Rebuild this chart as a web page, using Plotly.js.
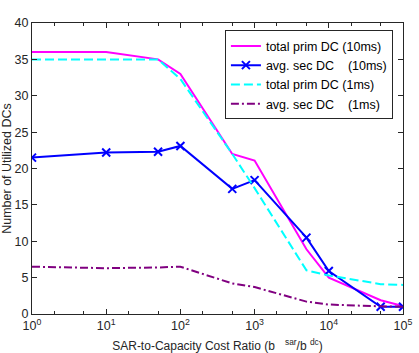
<!DOCTYPE html>
<html>
<head>
<meta charset="utf-8">
<script src="https://cdn.plot.ly/plotly-3.0.1.min.js"></script>
<style>
  html, body { margin: 0; padding: 0; background: #fff; }
  #chart { width: 419px; height: 353px; }
</style>
</head>
<body>
<div id="chart"></div>
<script>
// cost ratio values (x)
const costRatio = [1, 10, 50, 100, 500, 1000, 5000, 10000, 50000, 100000];

const primDC10ms = [36, 36, 35, 33, 22, 21.1, 8.9, 5, 1.9, 1.1];
const secDC10ms = [21.5, 22.2, 22.3, 23.1, 17.2, 18.4, 10.5, 5.9, 1.0, 1.0];
const primDC1ms = [35, 35, 35, 32.3, 22, 17.3, 6.0, 5.3, 4.1, 4.0];
const secDC1ms = [6.5, 6.3, 6.4, 6.5, 4.2, 3.7, 1.7, 1.3, 1.05, 1.0];

const xTickVals = [1, 10, 100, 1000, 10000, 100000];
const xTickText = ["10<sup>0</sup>", "10<sup>1</sup>", "10<sup>2</sup>",
  "10<sup>3</sup>", "10<sup>4</sup>", "10<sup>5</sup>"];

const axisColor = "#262626";
const font = "Liberation Sans, Arial, sans-serif";

const data = [
  {
    x: costRatio,
    y: primDC10ms,
    name: "total prim DC (10ms)",
    mode: "lines",
    line: { color: "#ff00ff", width: 2 },
  },
  {
    x: costRatio,
    y: secDC10ms,
    name: "avg. sec DC\u00a0\u00a0\u00a0\u00a0(10ms)",
    mode: "lines+markers",
    line: { color: "#0000ff", width: 2 },
    marker: { symbol: "x-thin-open", size: 8, line: { color: "#0000ff", width: 2 } },
  },
  {
    x: costRatio,
    y: primDC1ms,
    name: "total prim DC (1ms)",
    mode: "lines",
    line: { color: "#00ffff", width: 2, dash: "9px,4px" },
  },
  {
    x: costRatio,
    y: secDC1ms,
    name: "avg. sec DC\u00a0\u00a0\u00a0\u00a0(1ms)",
    mode: "lines",
    line: { color: "#800080", width: 2, dash: "8px,3px,2px,3px" },
  },
];

const layout = {
  width: 419,
  height: 353,
  margin: { l: 32, r: 16, t: 23, b: 39 },
  font: { family: font, size: 12, color: axisColor },
  showlegend: true,
  legend: {
    x: 0.52,
    y: 0.975,
    xanchor: "left",
    yanchor: "top",
    bgcolor: "#ffffff",
    bordercolor: "#262626",
    borderwidth: 1,
    font: { size: 12.5, color: "#000" },
    tracegroupgap: 0,
    itemwidth: 30,
  },
  xaxis: {
    type: "log",
    range: [0, 5],
    tickvals: xTickVals,
    ticktext: xTickText,
    ticks: "inside",
    ticklen: 5,
    tickcolor: axisColor,
    showline: true,
    linecolor: axisColor,
    linewidth: 1,
    mirror: "ticks",
    showgrid: false,
    zeroline: false,
    tickfont: { size: 12.5 },
    minor: { ticks: "inside", ticklen: 3, tickcolor: axisColor, showgrid: false },
    title: {
      text: "SAR-to-Capacity Cost Ratio (b\u00a0\u00a0\u00a0<sup>sar</sup>/b\u00a0<sup>dc</sup>)",
      font: { size: 12 },
      standoff: 9,
    },
  },
  yaxis: {
    range: [0, 40],
    dtick: 5,
    ticks: "inside",
    ticklen: 5,
    tickcolor: axisColor,
    showline: true,
    linecolor: axisColor,
    linewidth: 1,
    mirror: "ticks",
    showgrid: false,
    zeroline: false,
    tickfont: { size: 12.5 },
    title: {
      text: "Number of Utilized DCs",
      font: { size: 12.5 },
      standoff: 10,
    },
  },
  paper_bgcolor: "#ffffff",
  plot_bgcolor: "#ffffff",
};

const config = {
  responsive: false,
  displayModeBar: false,
};

Plotly.newPlot("chart", data, layout, config);
</script>
</body>
</html>
